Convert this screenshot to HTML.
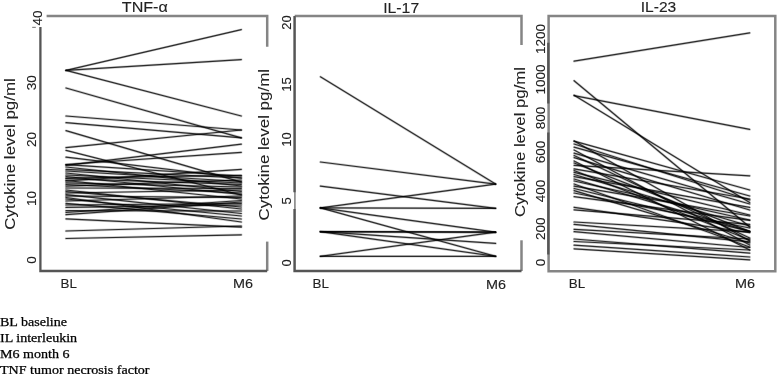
<!DOCTYPE html>
<html><head><meta charset="utf-8"><style>
html,body{margin:0;padding:0;background:#fff;}
body{width:778px;height:374px;position:relative;overflow:hidden;filter:grayscale(1);}
svg{position:absolute;left:0;top:0;}
.f{position:absolute;left:0;font-family:"Liberation Serif",serif;font-size:12.3px;line-height:14px;color:#000;transform-origin:0 0;transform:scaleX(1.143);white-space:nowrap;-webkit-text-stroke:0.25px #000;}
</style></head><body>
<svg width="778" height="374" viewBox="0 0 778 374">
<g stroke="#858585" stroke-width="2.5" fill="none"><path d="M46.6 16 H267.2 V46.7"/><path d="M267.2 241.6 V271"/><path d="M294.7 16 H521.5 V45"/><path d="M521.5 240.3 V271"/><path d="M548.6 16 H775.3 V271.2 H548.6 Z"/></g><path d="M294.9 16 V271" stroke="#858585" stroke-width="1.6" fill="none"/><g stroke="#555" stroke-width="2.3" fill="none"><path d="M40.4 27 V271 H267.2"/><path d="M294.5 16 V192.2 M294.5 209.1 V271 H521.5"/><path d="M548.3 42.7 V103.5 M548.3 132.4 V254.4"/><path d="M32.2 27.4 H35.8" stroke="#888" stroke-width="1.2"/></g><g stroke="#000" stroke-width="2.5" stroke-opacity="0.2" stroke-linecap="round"><line x1="66" y1="70.4" x2="241.3" y2="29.6"/><line x1="66" y1="70.4" x2="241.3" y2="59.6"/><line x1="66" y1="70.4" x2="241.3" y2="116"/><line x1="66" y1="88" x2="241.3" y2="137.8"/><line x1="66" y1="116" x2="241.3" y2="130"/><line x1="66" y1="122.7" x2="241.3" y2="137.8"/><line x1="66" y1="130.7" x2="241.3" y2="182.2"/><line x1="66" y1="147.6" x2="241.3" y2="130"/><line x1="66" y1="150.4" x2="241.3" y2="195"/><line x1="66" y1="157.2" x2="241.3" y2="178"/><line x1="66" y1="165.3" x2="241.3" y2="144.2"/><line x1="66" y1="164.5" x2="241.3" y2="152.4"/><line x1="66" y1="181" x2="241.3" y2="169.4"/><line x1="66" y1="178" x2="241.3" y2="175.4"/><line x1="66" y1="218.9" x2="241.3" y2="227.1"/><line x1="66" y1="231" x2="241.3" y2="226"/><line x1="66" y1="238.5" x2="241.3" y2="234.8"/><line x1="66" y1="164.7" x2="241.3" y2="176"/><line x1="66" y1="167" x2="241.3" y2="186"/><line x1="66" y1="169.4" x2="241.3" y2="178"/><line x1="66" y1="171" x2="241.3" y2="181.5"/><line x1="66" y1="173" x2="241.3" y2="191.5"/><line x1="66" y1="175" x2="241.3" y2="183"/><line x1="66" y1="176.5" x2="241.3" y2="194.5"/><line x1="66" y1="178.7" x2="241.3" y2="184.5"/><line x1="66" y1="180.5" x2="241.3" y2="199"/><line x1="66" y1="182.8" x2="241.3" y2="187"/><line x1="66" y1="184.5" x2="241.3" y2="193"/><line x1="66" y1="186.1" x2="241.3" y2="180"/><line x1="66" y1="188" x2="241.3" y2="188.5"/><line x1="66" y1="190" x2="241.3" y2="209"/><line x1="66" y1="191.5" x2="241.3" y2="207"/><line x1="66" y1="193" x2="241.3" y2="190"/><line x1="66" y1="194.6" x2="241.3" y2="213.5"/><line x1="66" y1="196" x2="241.3" y2="197.5"/><line x1="66" y1="197.5" x2="241.3" y2="222"/><line x1="66" y1="199" x2="241.3" y2="216"/><line x1="66" y1="201" x2="241.3" y2="196"/><line x1="66" y1="203.4" x2="241.3" y2="219"/><line x1="66" y1="205" x2="241.3" y2="203.5"/><line x1="66" y1="207.4" x2="241.3" y2="205"/><line x1="66" y1="210.7" x2="241.3" y2="211"/><line x1="66" y1="212.5" x2="241.3" y2="200.5"/><line x1="66" y1="214.7" x2="241.3" y2="202"/></g><g stroke="#000" stroke-width="1.2" stroke-opacity="0.78" stroke-linecap="round"><line x1="66" y1="70.4" x2="241.3" y2="29.6"/><line x1="66" y1="70.4" x2="241.3" y2="59.6"/><line x1="66" y1="70.4" x2="241.3" y2="116"/><line x1="66" y1="88" x2="241.3" y2="137.8"/><line x1="66" y1="116" x2="241.3" y2="130"/><line x1="66" y1="122.7" x2="241.3" y2="137.8"/><line x1="66" y1="130.7" x2="241.3" y2="182.2"/><line x1="66" y1="147.6" x2="241.3" y2="130"/><line x1="66" y1="150.4" x2="241.3" y2="195"/><line x1="66" y1="157.2" x2="241.3" y2="178"/><line x1="66" y1="165.3" x2="241.3" y2="144.2"/><line x1="66" y1="164.5" x2="241.3" y2="152.4"/><line x1="66" y1="181" x2="241.3" y2="169.4"/><line x1="66" y1="178" x2="241.3" y2="175.4"/><line x1="66" y1="218.9" x2="241.3" y2="227.1"/><line x1="66" y1="231" x2="241.3" y2="226"/><line x1="66" y1="238.5" x2="241.3" y2="234.8"/><line x1="66" y1="164.7" x2="241.3" y2="176"/><line x1="66" y1="167" x2="241.3" y2="186"/><line x1="66" y1="169.4" x2="241.3" y2="178"/><line x1="66" y1="171" x2="241.3" y2="181.5"/><line x1="66" y1="173" x2="241.3" y2="191.5"/><line x1="66" y1="175" x2="241.3" y2="183"/><line x1="66" y1="176.5" x2="241.3" y2="194.5"/><line x1="66" y1="178.7" x2="241.3" y2="184.5"/><line x1="66" y1="180.5" x2="241.3" y2="199"/><line x1="66" y1="182.8" x2="241.3" y2="187"/><line x1="66" y1="184.5" x2="241.3" y2="193"/><line x1="66" y1="186.1" x2="241.3" y2="180"/><line x1="66" y1="188" x2="241.3" y2="188.5"/><line x1="66" y1="190" x2="241.3" y2="209"/><line x1="66" y1="191.5" x2="241.3" y2="207"/><line x1="66" y1="193" x2="241.3" y2="190"/><line x1="66" y1="194.6" x2="241.3" y2="213.5"/><line x1="66" y1="196" x2="241.3" y2="197.5"/><line x1="66" y1="197.5" x2="241.3" y2="222"/><line x1="66" y1="199" x2="241.3" y2="216"/><line x1="66" y1="201" x2="241.3" y2="196"/><line x1="66" y1="203.4" x2="241.3" y2="219"/><line x1="66" y1="205" x2="241.3" y2="203.5"/><line x1="66" y1="207.4" x2="241.3" y2="205"/><line x1="66" y1="210.7" x2="241.3" y2="211"/><line x1="66" y1="212.5" x2="241.3" y2="200.5"/><line x1="66" y1="214.7" x2="241.3" y2="202"/></g><g stroke="#000" stroke-width="2.5" stroke-opacity="0.2" stroke-linecap="round"><line x1="320.4" y1="76.8" x2="495.6" y2="184.1"/><line x1="320.4" y1="162" x2="495.6" y2="184.1"/><line x1="320.4" y1="186.1" x2="495.6" y2="208.3"/><line x1="320.4" y1="207.9" x2="495.6" y2="184.1"/><line x1="320.4" y1="207.9" x2="495.6" y2="208.3"/><line x1="320.4" y1="207.9" x2="495.6" y2="232.2"/><line x1="320.4" y1="207.9" x2="495.6" y2="256.3"/><line x1="320.4" y1="231.7" x2="495.6" y2="232.2"/><line x1="320.4" y1="231.7" x2="495.6" y2="243.4"/><line x1="320.4" y1="231.7" x2="495.6" y2="256.3"/><line x1="320.4" y1="256.3" x2="495.6" y2="256.3"/><line x1="320.4" y1="256.3" x2="495.6" y2="232.2"/><line x1="320.4" y1="231.7" x2="495.6" y2="232.2"/></g><g stroke="#000" stroke-width="1.2" stroke-opacity="0.78" stroke-linecap="round"><line x1="320.4" y1="76.8" x2="495.6" y2="184.1"/><line x1="320.4" y1="162" x2="495.6" y2="184.1"/><line x1="320.4" y1="186.1" x2="495.6" y2="208.3"/><line x1="320.4" y1="207.9" x2="495.6" y2="184.1"/><line x1="320.4" y1="207.9" x2="495.6" y2="208.3"/><line x1="320.4" y1="207.9" x2="495.6" y2="232.2"/><line x1="320.4" y1="207.9" x2="495.6" y2="256.3"/><line x1="320.4" y1="231.7" x2="495.6" y2="232.2"/><line x1="320.4" y1="231.7" x2="495.6" y2="243.4"/><line x1="320.4" y1="231.7" x2="495.6" y2="256.3"/><line x1="320.4" y1="256.3" x2="495.6" y2="256.3"/><line x1="320.4" y1="256.3" x2="495.6" y2="232.2"/><line x1="320.4" y1="231.7" x2="495.6" y2="232.2"/></g><g stroke="#000" stroke-width="2.5" stroke-opacity="0.2" stroke-linecap="round"><line x1="574.1" y1="61.2" x2="749.7" y2="32.9"/><line x1="574.1" y1="80.7" x2="749.7" y2="227"/><line x1="574.1" y1="95.2" x2="749.7" y2="202.5"/><line x1="574.1" y1="95.6" x2="749.7" y2="129.4"/><line x1="574.1" y1="141.1" x2="749.7" y2="190"/><line x1="574.1" y1="141.1" x2="749.7" y2="241"/><line x1="574.1" y1="144" x2="749.7" y2="200"/><line x1="574.1" y1="147.2" x2="749.7" y2="196"/><line x1="574.1" y1="150" x2="749.7" y2="245"/><line x1="574.1" y1="153.2" x2="749.7" y2="204"/><line x1="574.1" y1="155.5" x2="749.7" y2="238"/><line x1="574.1" y1="157.6" x2="749.7" y2="210"/><line x1="574.1" y1="161" x2="749.7" y2="250"/><line x1="574.1" y1="163" x2="749.7" y2="231.4"/><line x1="574.1" y1="165.4" x2="749.7" y2="175.8"/><line x1="574.1" y1="168.9" x2="749.7" y2="199"/><line x1="574.1" y1="170.5" x2="749.7" y2="240"/><line x1="574.1" y1="172.3" x2="749.7" y2="215"/><line x1="574.1" y1="174.5" x2="749.7" y2="226"/><line x1="574.1" y1="176.7" x2="749.7" y2="207.4"/><line x1="574.1" y1="179" x2="749.7" y2="231.4"/><line x1="574.1" y1="181" x2="749.7" y2="220"/><line x1="574.1" y1="184" x2="749.7" y2="247"/><line x1="574.1" y1="186.2" x2="749.7" y2="216"/><line x1="574.1" y1="188.5" x2="749.7" y2="231.4"/><line x1="574.1" y1="190.6" x2="749.7" y2="243"/><line x1="574.1" y1="193" x2="749.7" y2="228"/><line x1="574.1" y1="196.7" x2="749.7" y2="220.3"/><line x1="574.1" y1="207.3" x2="749.7" y2="232.6"/><line x1="574.1" y1="209.8" x2="749.7" y2="224.4"/><line x1="574.1" y1="222" x2="749.7" y2="231.9"/><line x1="574.1" y1="224.4" x2="749.7" y2="241.9"/><line x1="574.1" y1="229.3" x2="749.7" y2="239"/><line x1="574.1" y1="231.7" x2="749.7" y2="247.5"/><line x1="574.1" y1="239" x2="749.7" y2="253.1"/><line x1="574.1" y1="241.5" x2="749.7" y2="250"/><line x1="574.1" y1="245.2" x2="749.7" y2="257"/><line x1="574.1" y1="248.8" x2="749.7" y2="259.8"/></g><g stroke="#000" stroke-width="1.2" stroke-opacity="0.78" stroke-linecap="round"><line x1="574.1" y1="61.2" x2="749.7" y2="32.9"/><line x1="574.1" y1="80.7" x2="749.7" y2="227"/><line x1="574.1" y1="95.2" x2="749.7" y2="202.5"/><line x1="574.1" y1="95.6" x2="749.7" y2="129.4"/><line x1="574.1" y1="141.1" x2="749.7" y2="190"/><line x1="574.1" y1="141.1" x2="749.7" y2="241"/><line x1="574.1" y1="144" x2="749.7" y2="200"/><line x1="574.1" y1="147.2" x2="749.7" y2="196"/><line x1="574.1" y1="150" x2="749.7" y2="245"/><line x1="574.1" y1="153.2" x2="749.7" y2="204"/><line x1="574.1" y1="155.5" x2="749.7" y2="238"/><line x1="574.1" y1="157.6" x2="749.7" y2="210"/><line x1="574.1" y1="161" x2="749.7" y2="250"/><line x1="574.1" y1="163" x2="749.7" y2="231.4"/><line x1="574.1" y1="165.4" x2="749.7" y2="175.8"/><line x1="574.1" y1="168.9" x2="749.7" y2="199"/><line x1="574.1" y1="170.5" x2="749.7" y2="240"/><line x1="574.1" y1="172.3" x2="749.7" y2="215"/><line x1="574.1" y1="174.5" x2="749.7" y2="226"/><line x1="574.1" y1="176.7" x2="749.7" y2="207.4"/><line x1="574.1" y1="179" x2="749.7" y2="231.4"/><line x1="574.1" y1="181" x2="749.7" y2="220"/><line x1="574.1" y1="184" x2="749.7" y2="247"/><line x1="574.1" y1="186.2" x2="749.7" y2="216"/><line x1="574.1" y1="188.5" x2="749.7" y2="231.4"/><line x1="574.1" y1="190.6" x2="749.7" y2="243"/><line x1="574.1" y1="193" x2="749.7" y2="228"/><line x1="574.1" y1="196.7" x2="749.7" y2="220.3"/><line x1="574.1" y1="207.3" x2="749.7" y2="232.6"/><line x1="574.1" y1="209.8" x2="749.7" y2="224.4"/><line x1="574.1" y1="222" x2="749.7" y2="231.9"/><line x1="574.1" y1="224.4" x2="749.7" y2="241.9"/><line x1="574.1" y1="229.3" x2="749.7" y2="239"/><line x1="574.1" y1="231.7" x2="749.7" y2="247.5"/><line x1="574.1" y1="239" x2="749.7" y2="253.1"/><line x1="574.1" y1="241.5" x2="749.7" y2="250"/><line x1="574.1" y1="245.2" x2="749.7" y2="257"/><line x1="574.1" y1="248.8" x2="749.7" y2="259.8"/></g><g font-family="Liberation Sans, sans-serif" fill="#222" stroke="#222" stroke-width="0.12"><text x="144.8" y="11.8" font-size="15" text-anchor="middle" textLength="46" lengthAdjust="spacingAndGlyphs">TNF-α</text><text x="401.2" y="12.6" font-size="15" text-anchor="middle" textLength="36" lengthAdjust="spacingAndGlyphs">IL-17</text><text x="658.5" y="11.9" font-size="15" text-anchor="middle" textLength="35.5" lengthAdjust="spacingAndGlyphs">IL-23</text><g stroke-width="0.05"><text transform="translate(15.4,229.7) rotate(-90)" font-size="14.5" text-anchor="start" textLength="151.5" lengthAdjust="spacingAndGlyphs">Cytokine level pg/ml</text><text transform="translate(268.9,220.5) rotate(-90)" font-size="14.5" text-anchor="start" textLength="151.5" lengthAdjust="spacingAndGlyphs">Cytokine level pg/ml</text><text transform="translate(524.8,217) rotate(-90)" font-size="14.5" text-anchor="start" textLength="150" lengthAdjust="spacingAndGlyphs">Cytokine level pg/ml</text></g><text transform="translate(42,18) rotate(-90)" font-size="13.5" text-anchor="middle">40</text><text transform="translate(35.8,82.7) rotate(-90)" font-size="13.5" text-anchor="middle">30</text><text transform="translate(36,139.5) rotate(-90)" font-size="13.5" text-anchor="middle">20</text><text transform="translate(35.8,198.5) rotate(-90)" font-size="13.5" text-anchor="middle">10</text><text transform="translate(36,260) rotate(-90)" font-size="13.5" text-anchor="middle">0</text><text transform="translate(290.8,22.5) rotate(-90)" font-size="13" text-anchor="middle">20</text><text transform="translate(290.8,84.5) rotate(-90)" font-size="13" text-anchor="middle">15</text><text transform="translate(290.8,139.5) rotate(-90)" font-size="13" text-anchor="middle">10</text><text transform="translate(290.8,201) rotate(-90)" font-size="13" text-anchor="middle">5</text><text transform="translate(290.8,262.8) rotate(-90)" font-size="13" text-anchor="middle">0</text><text transform="translate(545.2,39) rotate(-90)" font-size="13.5" text-anchor="middle">1200</text><text transform="translate(545.2,79.6) rotate(-90)" font-size="13.5" text-anchor="middle">1000</text><text transform="translate(545.2,118) rotate(-90)" font-size="13.5" text-anchor="middle">800</text><text transform="translate(545.2,152) rotate(-90)" font-size="13.5" text-anchor="middle">600</text><text transform="translate(545.2,191.1) rotate(-90)" font-size="13.5" text-anchor="middle">400</text><text transform="translate(545.2,228.8) rotate(-90)" font-size="13.5" text-anchor="middle">200</text><text transform="translate(545.2,262.6) rotate(-90)" font-size="13.5" text-anchor="middle">0</text><text x="68.7" y="288" font-size="13.4" text-anchor="middle">BL</text><text x="243" y="288" font-size="13.4" text-anchor="middle" textLength="20" lengthAdjust="spacingAndGlyphs">M6</text><text x="320.8" y="288" font-size="13.4" text-anchor="middle">BL</text><text x="496" y="289.3" font-size="13.4" text-anchor="middle" textLength="20" lengthAdjust="spacingAndGlyphs">M6</text><text x="576.9" y="288" font-size="13.4" text-anchor="middle">BL</text><text x="745.1" y="288" font-size="13.4" text-anchor="middle" textLength="20" lengthAdjust="spacingAndGlyphs">M6</text></g>
</svg>
<div class="f" style="top:315px">BL baseline</div><div class="f" style="top:331px">IL interleukin</div><div class="f" style="top:347px">M6 month 6</div><div class="f" style="top:363px">TNF tumor necrosis factor</div>
</body></html>
